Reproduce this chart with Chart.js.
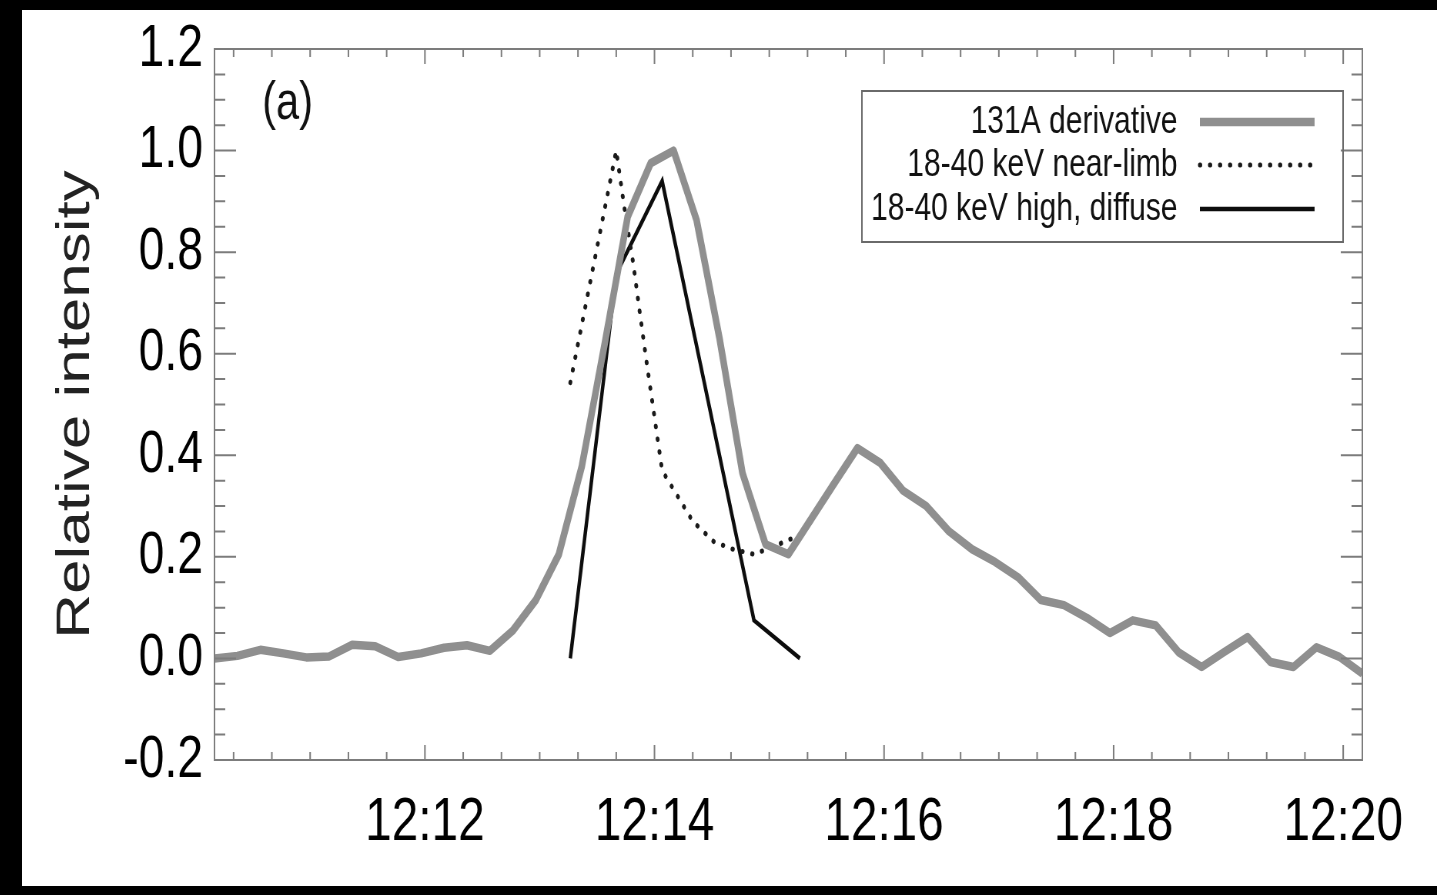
<!DOCTYPE html>
<html>
<head>
<meta charset="utf-8">
<title>Relative intensity</title>
<script src="https://cdn.jsdelivr.net/npm/chart.js@4.4.1/dist/chart.umd.min.js"></script>
<style>
  html, body { margin: 0; background: #000; }
  #panel { position: absolute; left: 22px; top: 10px; width: 1415px; height: 876px; background: #fff; overflow: hidden; }
</style>
</head>
<body>
<!-- canvas buffer is wider than its box, so glyphs come out condensed -->
<div id="panel"><canvas id="chart" width="1838" height="876" style="display:block;width:1415px;height:876px"></canvas></div>
<script>
// 131A derivative, 12 s cadence
const aiaTimes = [
  '12:10:10', '12:10:22', '12:10:34', '12:10:46', '12:10:58', '12:11:10', '12:11:22', '12:11:34',
  '12:11:46', '12:11:58', '12:12:10', '12:12:22', '12:12:34', '12:12:46', '12:12:58', '12:13:10',
  '12:13:22', '12:13:34', '12:13:46', '12:13:58', '12:14:10', '12:14:22', '12:14:34', '12:14:46',
  '12:14:58', '12:15:10', '12:15:22', '12:15:34', '12:15:46', '12:15:58', '12:16:10', '12:16:22',
  '12:16:34', '12:16:46', '12:16:58', '12:17:10', '12:17:22', '12:17:34', '12:17:46', '12:17:58',
  '12:18:10', '12:18:22', '12:18:34', '12:18:46', '12:18:58', '12:19:10', '12:19:22', '12:19:34',
  '12:19:46', '12:19:58', '12:20:10'
];
const aiaDeriv = [
  0.000, 0.005, 0.017, 0.010, 0.002, 0.004, 0.027, 0.024,
  0.003, 0.010, 0.021, 0.026, 0.015, 0.055, 0.115, 0.205,
  0.378, 0.620, 0.870, 0.975, 1.000, 0.863, 0.630, 0.365,
  0.225, 0.205, 0.275, 0.345, 0.414, 0.385, 0.330, 0.300,
  0.250, 0.215, 0.190, 0.160, 0.115, 0.105, 0.080, 0.050,
  0.075, 0.065, 0.012, -0.017, 0.013, 0.042, -0.007, -0.017,
  0.022, 0.003, -0.030
];

// 18-40 keV near-limb source
const limbTimes = [
  '12:13:16', '12:13:40', '12:13:44', '12:13:49', '12:13:52', '12:13:56', '12:14:00', '12:14:04',
  '12:14:12', '12:14:20', '12:14:31', '12:14:41', '12:14:52', '12:15:02', '12:15:16'
];
const limbFlux = [
  0.543, 1.000, 0.894, 0.775, 0.690, 0.580, 0.475, 0.370,
  0.320, 0.270, 0.230, 0.215, 0.205, 0.220, 0.243
];

// 18-40 keV high, diffuse source
const diffuseTimes = ['12:13:16', '12:13:40', '12:14:04', '12:14:52', '12:15:16'];
const diffuseFlux = [0.000, 0.757, 0.940, 0.075, 0.000];

const seriesLabels = ['131A derivative', '18-40 keV near-limb', '18-40 keV high, diffuse'];
const xTickLabels = ['12:12', '12:14', '12:16', '12:18', '12:20'];
const yTicks = [-0.2, 0.0, 0.2, 0.4, 0.6, 0.8, 1.0, 1.2];
const xRange = ['12:10:10', '12:20:10'];

const FONT = 'Liberation Sans, Arial, Helvetica, sans-serif';

function toSec(str) {
  const p = str.split(':').map(Number);
  return p[0] * 3600 + p[1] * 60 + (p[2] || 0);
}
function fmtClock(sec) {
  const h = Math.floor(sec / 3600);
  const m = Math.floor((sec % 3600) / 60);
  return h + ':' + String(m).padStart(2, '0');
}
function pairs(times, vals) {
  return times.map((t, i) => ({x: toSec(t), y: vals[i]}));
}

// box, inward ticks on all four sides, panel tag and legend
const framePlugin = {
  id: 'idlFrame',
  afterDatasetsDraw(chart) {
    const {ctx, chartArea: a, scales: {x, y}} = chart;
    ctx.save();
    ctx.strokeStyle = '#7c7c7c';
    ctx.lineWidth = 2;
    ctx.strokeRect(a.left, a.top, a.right - a.left, a.bottom - a.top);

    ctx.beginPath();
    for (let t = Math.ceil(x.min / 20) * 20; t <= x.max; t += 20) {
      const px = x.getPixelForValue(t);
      const len = t % 120 === 0 ? 15 : 8;
      ctx.moveTo(px, a.bottom); ctx.lineTo(px, a.bottom - len);
      ctx.moveTo(px, a.top); ctx.lineTo(px, a.top + len);
    }
    for (let k = -4; k <= 24; k++) {
      const py = y.getPixelForValue(k * 0.05);
      const len = k % 4 === 0 ? 28 : 14;
      ctx.moveTo(a.left, py); ctx.lineTo(a.left + len, py);
      ctx.moveTo(a.right, py); ctx.lineTo(a.right - len, py);
    }
    ctx.stroke();

    // panel tag
    ctx.fillStyle = '#111';
    ctx.font = '54px ' + FONT;
    ctx.textAlign = 'center';
    ctx.textBaseline = 'middle';
    ctx.fillText('(a)', a.left + 95, a.top + 55);

    // legend box
    const boxL = a.right - 650, boxR = a.right - 25, boxT = a.top + 42, boxB = a.top + 193;
    ctx.strokeStyle = '#6a6a6a';
    ctx.lineWidth = 2;
    ctx.strokeRect(boxL, boxT, boxR - boxL, boxB - boxT);

    ctx.font = '39px ' + FONT;
    ctx.textAlign = 'right';
    const rows = [a.top + 73, a.top + 116, a.top + 160];
    chart.data.datasets.forEach((ds, i) => {
      const ry = rows[i];
      ctx.fillStyle = '#111';
      ctx.fillText(ds.label, a.right - 240, ry);
      ctx.save();
      ctx.strokeStyle = ds.borderColor;
      ctx.lineWidth = ds.borderWidth;
      ctx.lineCap = ds.borderCapStyle || 'butt';
      ctx.setLineDash(ds.borderDash || []);
      ctx.beginPath();
      ctx.moveTo(a.right - 211, ry);
      ctx.lineTo(a.right - 62, ry);
      ctx.stroke();
      ctx.restore();
    });
    ctx.restore();
  }
};

new Chart(document.getElementById('chart'), {
  type: 'line',
  data: {
    datasets: [
      {
        label: seriesLabels[0],
        data: pairs(aiaTimes, aiaDeriv),
        borderColor: '#8f8f8f',
        borderWidth: 8.5,
        borderJoinStyle: 'round',
        borderCapStyle: 'butt',
        pointRadius: 0,
        tension: 0
      },
      {
        label: seriesLabels[1],
        data: pairs(limbTimes, limbFlux),
        borderColor: '#1a1a1a',
        borderWidth: 5,
        borderDash: [0.5, 12.5],
        borderCapStyle: 'round',
        pointRadius: 0,
        tension: 0
      },
      {
        label: seriesLabels[2],
        data: pairs(diffuseTimes, diffuseFlux),
        borderColor: '#0d0d0d',
        borderWidth: 4.5,
        borderJoinStyle: 'miter',
        borderCapStyle: 'butt',
        pointRadius: 0,
        tension: 0
      }
    ]
  },
  options: {
    responsive: false,
    animation: false,
    events: [],
    layout: {padding: {left: 0, right: 97, top: 37, bottom: 0}},
    plugins: {legend: {display: false}, tooltip: {enabled: false}},
    scales: {
      x: {
        type: 'linear',
        min: toSec(xRange[0]),
        max: toSec(xRange[1]),
        grid: {display: false, drawTicks: false},
        border: {display: false},
        afterBuildTicks(scale) {
          scale.ticks = xTickLabels.map(l => ({value: toSec(l)}));
        },
        afterFit(scale) { scale.height = 126; },
        ticks: {
          autoSkip: false,
          maxRotation: 0,
          padding: 26,
          color: '#000',
          font: {family: FONT, size: 62},
          callback: v => fmtClock(v)
        }
      },
      y: {
        min: yTicks[0],
        max: yTicks[yTicks.length - 1],
        grid: {display: false, drawTicks: false},
        border: {display: false},
        afterBuildTicks(scale) {
          scale.ticks = yTicks.map(v => ({value: v}));
        },
        afterFit(scale) { scale.width = 250; },
        ticks: {
          padding: 15,
          color: '#000',
          font: {family: FONT, size: 60, lineHeight: 0.8},
          callback: v => v.toFixed(1)
        },
        title: {
          display: true,
          text: 'Relative intensity',
          color: '#222',
          padding: {top: 33, bottom: 0},
          font: {family: FONT, size: 62}
        }
      }
    }
  },
  plugins: [framePlugin]
});
</script>
</body>
</html>
